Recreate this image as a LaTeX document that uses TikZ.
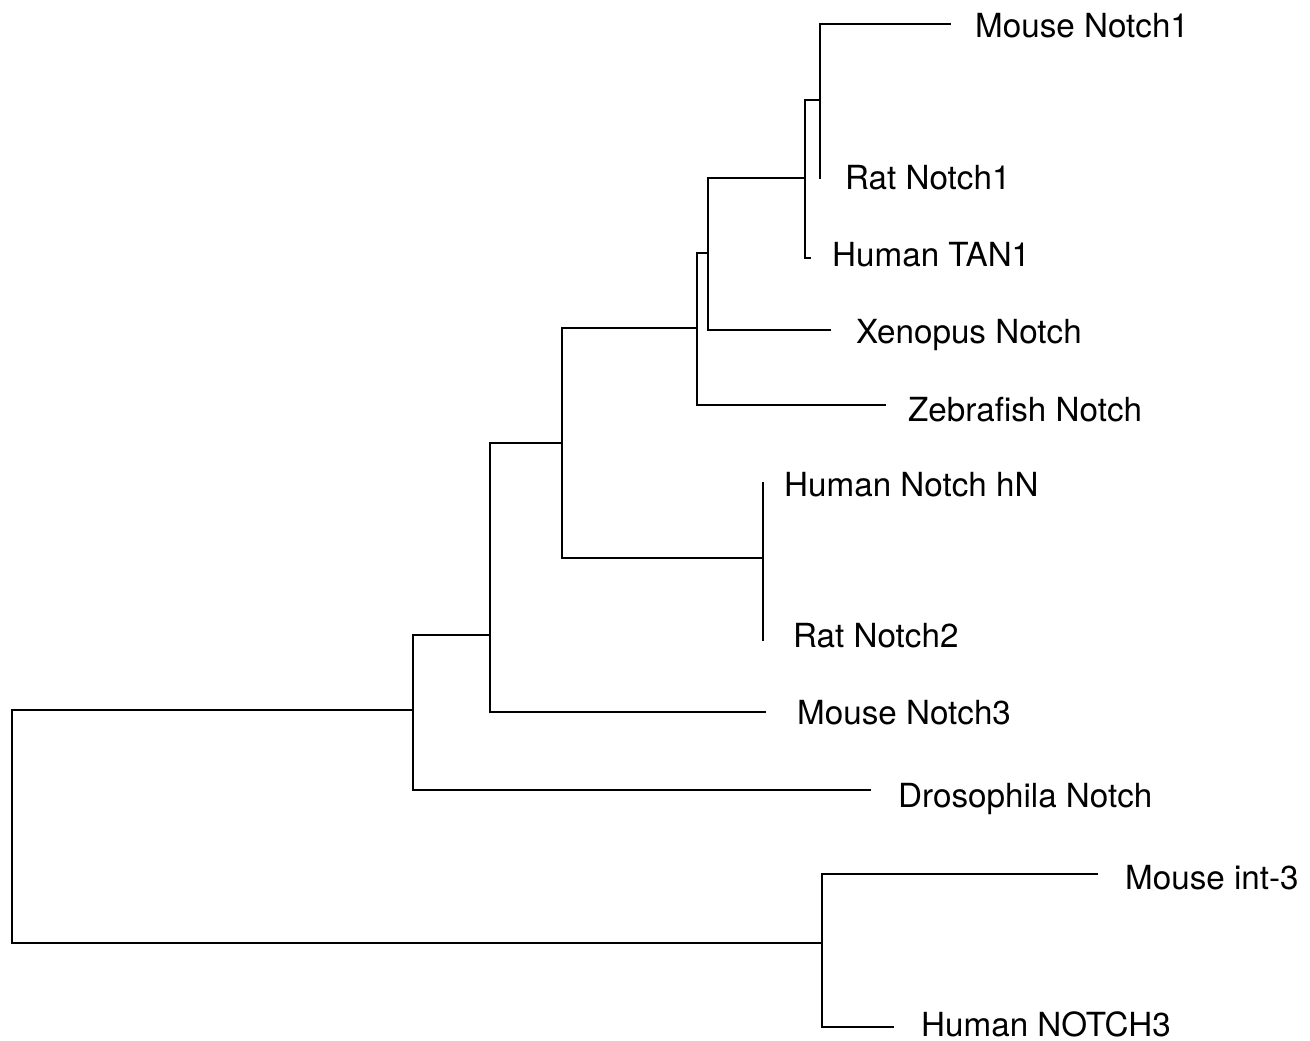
\documentclass[tikz,border=0pt]{standalone}
\usepackage{fontspec}
\setmainfont{TeX Gyre Heros}
\begin{document}
\begin{tikzpicture}[x=1pt,y=-1pt,
  branch/.style={line width=1.6pt, line cap=rect},
  leaf/.style={anchor=base west, inner sep=0pt, font=\fontsize{33.2}{40}\selectfont}]
\useasboundingbox[fill=white] (0,0) rectangle (1310,1041);
% internal nodes
\coordinate (root) at (12,710);
\coordinate (nA) at (413,710);
\coordinate (nB) at (822,943);
\coordinate (nC) at (490,635);
\coordinate (nD) at (562,443);
\coordinate (nE) at (697,328);
\coordinate (nF) at (763,558);
\coordinate (nG) at (708,253);
\coordinate (nH) at (805,178);
\coordinate (nI) at (820,100);
% tips
\coordinate (tMN1) at (950,24);
\coordinate (tRN1) at (820,178);
\coordinate (tTAN) at (810,258);
\coordinate (tXen) at (830,330);
\coordinate (tZeb) at (885,405);
\coordinate (thN) at (763,483);
\coordinate (tRN2) at (763,640);
\coordinate (tMN3) at (765,712);
\coordinate (tDro) at (870,790);
\coordinate (tInt) at (1097,874);
\coordinate (tHN3) at (893,1027);
% labels
\node[leaf] (lMN1) at (975,38) {Mouse Notch1};
\node[leaf] (lRN1) at (845,189) {Rat Notch1};
\node[leaf] (lTAN) at (832,266) {Human TAN1};
\node[leaf] (lXen) at (856,343) {Xenopus Notch};
\node[leaf] (lZeb) at (908,421) {Zebrafish Notch};
\node[leaf] (lhN) at (784,496) {Human Notch hN};
\node[leaf] (lRN2) at (793,647) {Rat Notch2};
\node[leaf] (lMN3) at (797,724) {Mouse Notch3};
\node[leaf] (lDro) at (898,807) {Drosophila Notch};
\node[leaf] (lInt) at (1125,889) {Mouse int-3};
\node[leaf] (lHN3) at (921,1036) {Human NOTCH3};
% branches
\draw[branch] (root) |- (nA);
\draw[branch] (root) |- (nB);
\draw[branch] (nA) |- (nC);
\draw[branch] (nA) |- (tDro);
\draw[branch] (nC) |- (nD);
\draw[branch] (nC) |- (tMN3);
\draw[branch] (nD) |- (nE);
\draw[branch] (nD) |- (nF);
\draw[branch] (nF) |- (thN);
\draw[branch] (nF) |- (tRN2);
\draw[branch] (nE) |- (nG);
\draw[branch] (nE) |- (tZeb);
\draw[branch] (nG) |- (nH);
\draw[branch] (nG) |- (tXen);
\draw[branch] (nH) |- (nI);
\draw[branch] (nH) |- (tTAN);
\draw[branch] (nI) |- (tMN1);
\draw[branch] (nI) |- (tRN1);
\draw[branch] (nB) |- (tInt);
\draw[branch] (nB) |- (tHN3);
\end{tikzpicture}
\end{document}
